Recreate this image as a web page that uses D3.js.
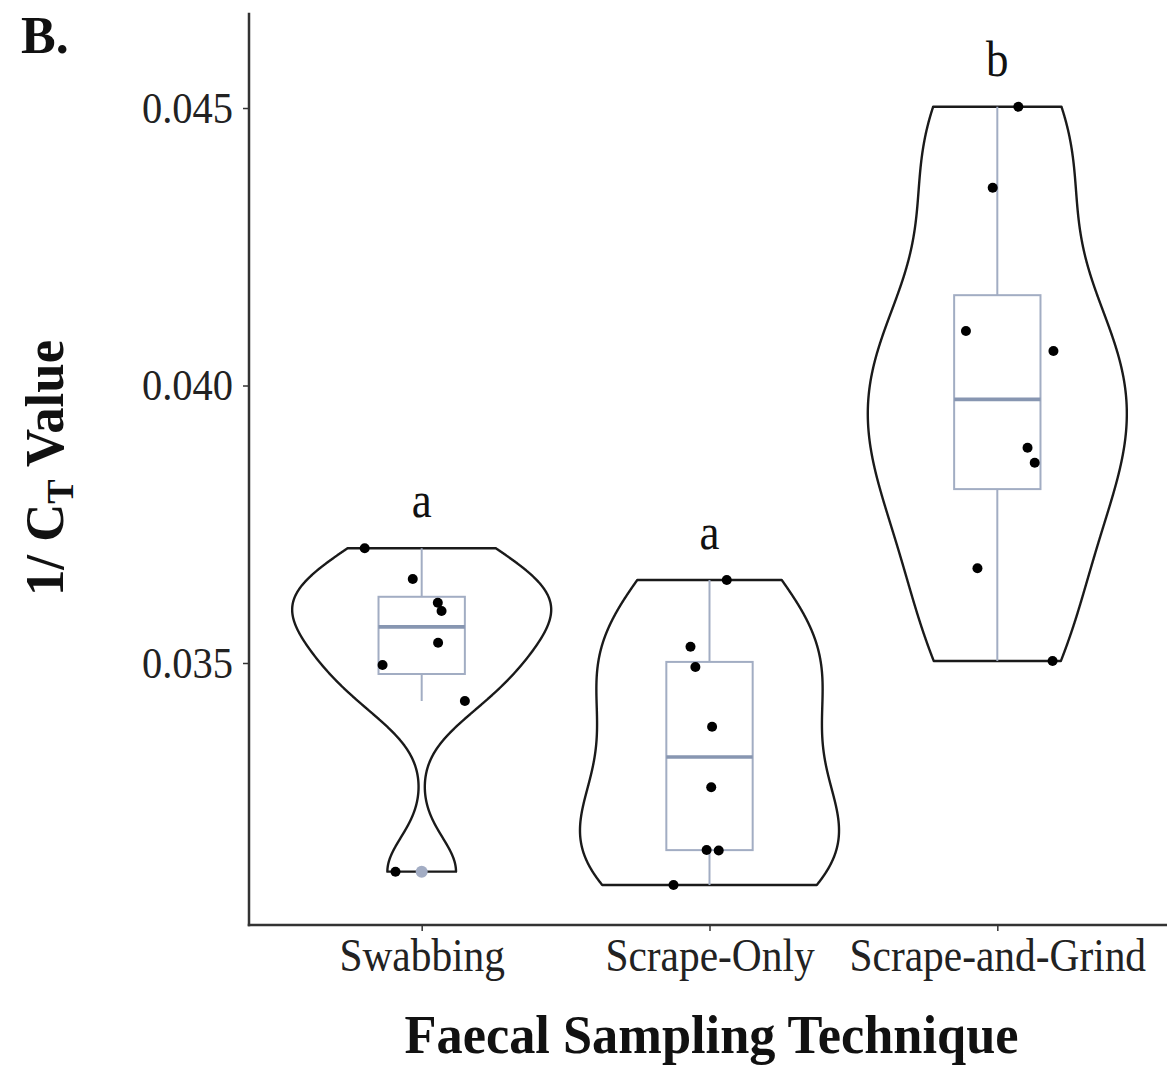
<!DOCTYPE html>
<html>
<head>
<meta charset="utf-8">
<script src="https://cdn.jsdelivr.net/npm/d3@7"></script>
<style>
  html, body { margin: 0; padding: 0; background: #fff; }
  svg { display: block; }
  text { font-family: "Liberation Serif", "Times New Roman", serif; }
</style>
</head>
<body>
<svg id="chart" width="1167" height="1068"></svg>
<script>
// 1/CT values per faecal sampling technique
const categories = ["Swabbing", "Scrape-Only", "Scrape-and-Grind"];
const swabbing    = [0.037067, 0.036514, 0.036086, 0.035937, 0.035366, 0.034964, 0.034315, 0.031240];
const scrapeOnly  = [0.036495, 0.035294, 0.034928, 0.033852, 0.032760, 0.031631, 0.031620, 0.031000];
const scrapeGrind = [0.045023, 0.043564, 0.040982, 0.040622, 0.038879, 0.038609, 0.036706, 0.035036];
// horizontal jitter of each point, in category-step units
const jitterSwabbing    = [-0.198, -0.031, 0.056, 0.069, 0.057, -0.136, 0.150, -0.091];
const jitterScrapeOnly  = [0.060, -0.066, -0.049, 0.009, 0.006, -0.010, 0.032, -0.125];
const jitterScrapeGrind = [0.073, -0.016, -0.109, 0.195, 0.105, 0.130, -0.069, 0.192];
// compact letter display from the post-hoc comparison
const groupLetters = ["a", "a", "b"];
const yTicks = [0.035, 0.040, 0.045];
const yDomain = [0.030279, 0.046694];

const groups = [
  { name: categories[0], values: swabbing,    jitter: jitterSwabbing,    letter: groupLetters[0] },
  { name: categories[1], values: scrapeOnly,  jitter: jitterScrapeOnly,  letter: groupLetters[1] },
  { name: categories[2], values: scrapeGrind, jitter: jitterScrapeGrind, letter: groupLetters[2] }
];

const svg = d3.select("#chart");
const panel = { left: 249, right: 1170, top: 14, bottom: 925 };

const x = d3.scalePoint().domain(categories).range([panel.left, panel.right]).padding(0.6);
const y = d3.scaleLinear().domain(yDomain).range([panel.bottom, panel.top]);
const step = x.step();

// Gaussian kernel density (bandwidth rule nrd0), evaluated over the data range
function bwNrd0(vals) {
  const s = d3.deviation(vals);
  const sorted = vals.slice().sort(d3.ascending);
  const iqr = d3.quantileSorted(sorted, 0.75) - d3.quantileSorted(sorted, 0.25);
  let lo = Math.min(s, iqr / 1.34);
  if (!lo) lo = s || Math.abs(sorted[0]) || 1;
  return 0.9 * lo * Math.pow(vals.length, -0.2);
}
function density(vals, n = 512) {
  const bw = bwNrd0(vals);
  const lo = d3.min(vals), hi = d3.max(vals);
  const norm = 1 / (vals.length * bw * Math.sqrt(2 * Math.PI));
  return d3.range(n).map(i => {
    const t = lo + (i * (hi - lo)) / (n - 1);
    let s = 0;
    for (const v of vals) { const z = (t - v) / bw; s += Math.exp(-0.5 * z * z); }
    return { t, d: s * norm };
  });
}

const plot = svg.append("g");

// violins (each scaled to the same maximum width)
groups.forEach(g => {
  const dens = density(g.values);
  const maxD = d3.max(dens, p => p.d);
  const half = 0.45 * step;
  const cx = x(g.name);
  const pts = dens.map(p => [cx + (p.d / maxD) * half, y(p.t)])
    .concat(dens.slice().reverse().map(p => [cx - (p.d / maxD) * half, y(p.t)]));
  plot.append("path")
    .attr("d", d3.line()(pts) + "Z")
    .attr("fill", "#fff")
    .attr("stroke", "#1a1a1a")
    .attr("stroke-width", 2.4)
    .attr("stroke-linejoin", "round");
});

// boxplots
const boxColor = "#a2adc3";
groups.forEach(g => {
  const sorted = g.values.slice().sort(d3.ascending);
  const q1 = d3.quantileSorted(sorted, 0.25);
  const med = d3.quantileSorted(sorted, 0.5);
  const q3 = d3.quantileSorted(sorted, 0.75);
  const iqr = q3 - q1;
  const lowW = d3.min(sorted.filter(v => v >= q1 - 1.5 * iqr));
  const highW = d3.max(sorted.filter(v => v <= q3 + 1.5 * iqr));
  const outliers = sorted.filter(v => v < lowW || v > highW);
  const cx = x(g.name);
  const bh = 0.15 * step;
  const b = plot.append("g");
  b.append("line").attr("x1", cx).attr("x2", cx).attr("y1", y(q3)).attr("y2", y(highW))
    .attr("stroke", boxColor).attr("stroke-width", 2);
  b.append("line").attr("x1", cx).attr("x2", cx).attr("y1", y(q1)).attr("y2", y(lowW))
    .attr("stroke", boxColor).attr("stroke-width", 2);
  b.append("rect").attr("x", cx - bh).attr("width", 2 * bh)
    .attr("y", y(q3)).attr("height", y(q1) - y(q3))
    .attr("fill", "none").attr("stroke", boxColor).attr("stroke-width", 2);
  b.append("line").attr("x1", cx - bh).attr("x2", cx + bh).attr("y1", y(med)).attr("y2", y(med))
    .attr("stroke", "#8796b1").attr("stroke-width", 3.6);
  b.selectAll("circle.out").data(outliers).join("circle")
    .attr("class", "out").attr("cx", cx).attr("cy", d => y(d)).attr("r", 6)
    .attr("fill", "#a3adc4");
});

// jittered observations
groups.forEach(g => {
  plot.append("g").selectAll("circle").data(g.values).join("circle")
    .attr("cx", (d, i) => x(g.name) + g.jitter[i] * step)
    .attr("cy", d => y(d))
    .attr("r", 5)
    .attr("fill", "#000");
});

// group letters above each violin
svg.append("g").selectAll("text").data(groups).join("text")
  .attr("text-anchor", "middle")
  .attr("font-size", 50)
  .attr("fill", "#111")
  .attr("transform", g => `translate(${x(g.name)},${y(d3.max(g.values)) - 31}) scale(0.9,1)`)
  .text(g => g.letter);

// axes
const axisColor = "#333";
const yAxis = svg.append("g").attr("transform", `translate(${panel.left},0)`)
  .call(d3.axisLeft(y).tickValues(yTicks).tickFormat(d3.format(".3f")).tickSize(6).tickSizeOuter(0).tickPadding(10));
yAxis.select(".domain").attr("d", `M0,${panel.top}V${panel.bottom}`);
yAxis.selectAll("text").each(function () {
  const t = d3.select(this);
  const tx = +t.attr("x");
  t.attr("x", 0).attr("transform", `translate(${tx},0) scale(0.9,1)`);
});

const xAxis = svg.append("g").attr("transform", `translate(0,${panel.bottom})`)
  .call(d3.axisBottom(x).tickSize(6).tickSizeOuter(0).tickPadding(7));
xAxis.select(".domain").attr("d", `M${panel.left},0H${panel.right}`);
xAxis.selectAll("text").attr("transform", "scale(0.9,1)");

[yAxis, xAxis].forEach(a => {
  a.select(".domain").attr("stroke", axisColor).attr("stroke-width", 2.5).attr("stroke-linecap", "square");
  a.selectAll(".tick line").attr("stroke", axisColor).attr("stroke-width", 1.5);
  a.selectAll("text").attr("font-size", 45).attr("fill", "#222")
    .attr("font-family", "'Liberation Serif', 'Times New Roman', serif");
});
xAxis.selectAll("text").attr("font-size", 46);

// axis titles
svg.append("text")
  .attr("text-anchor", "middle")
  .attr("font-size", 54).attr("font-weight", "bold").attr("fill", "#111")
  .attr("transform", `translate(${(panel.left + panel.right) / 2 + 2},1053) scale(0.97,1)`)
  .text("Faecal Sampling Technique");

const yTitle = svg.append("text")
  .attr("text-anchor", "middle")
  .attr("font-size", 55).attr("font-weight", "bold").attr("fill", "#111")
  .attr("transform", "translate(63,468) rotate(-90) scale(0.96,1)");
yTitle.append("tspan").text("1/ C");
yTitle.append("tspan").attr("font-size", 38).attr("dy", 10).text("T");
yTitle.append("tspan").attr("dy", -10).text(" Value");

// panel tag
svg.append("text")
  .attr("x", 21).attr("y", 53)
  .attr("font-size", 52).attr("font-weight", "bold").attr("fill", "#111")
  .text("B.");
</script>
</body>
</html>
